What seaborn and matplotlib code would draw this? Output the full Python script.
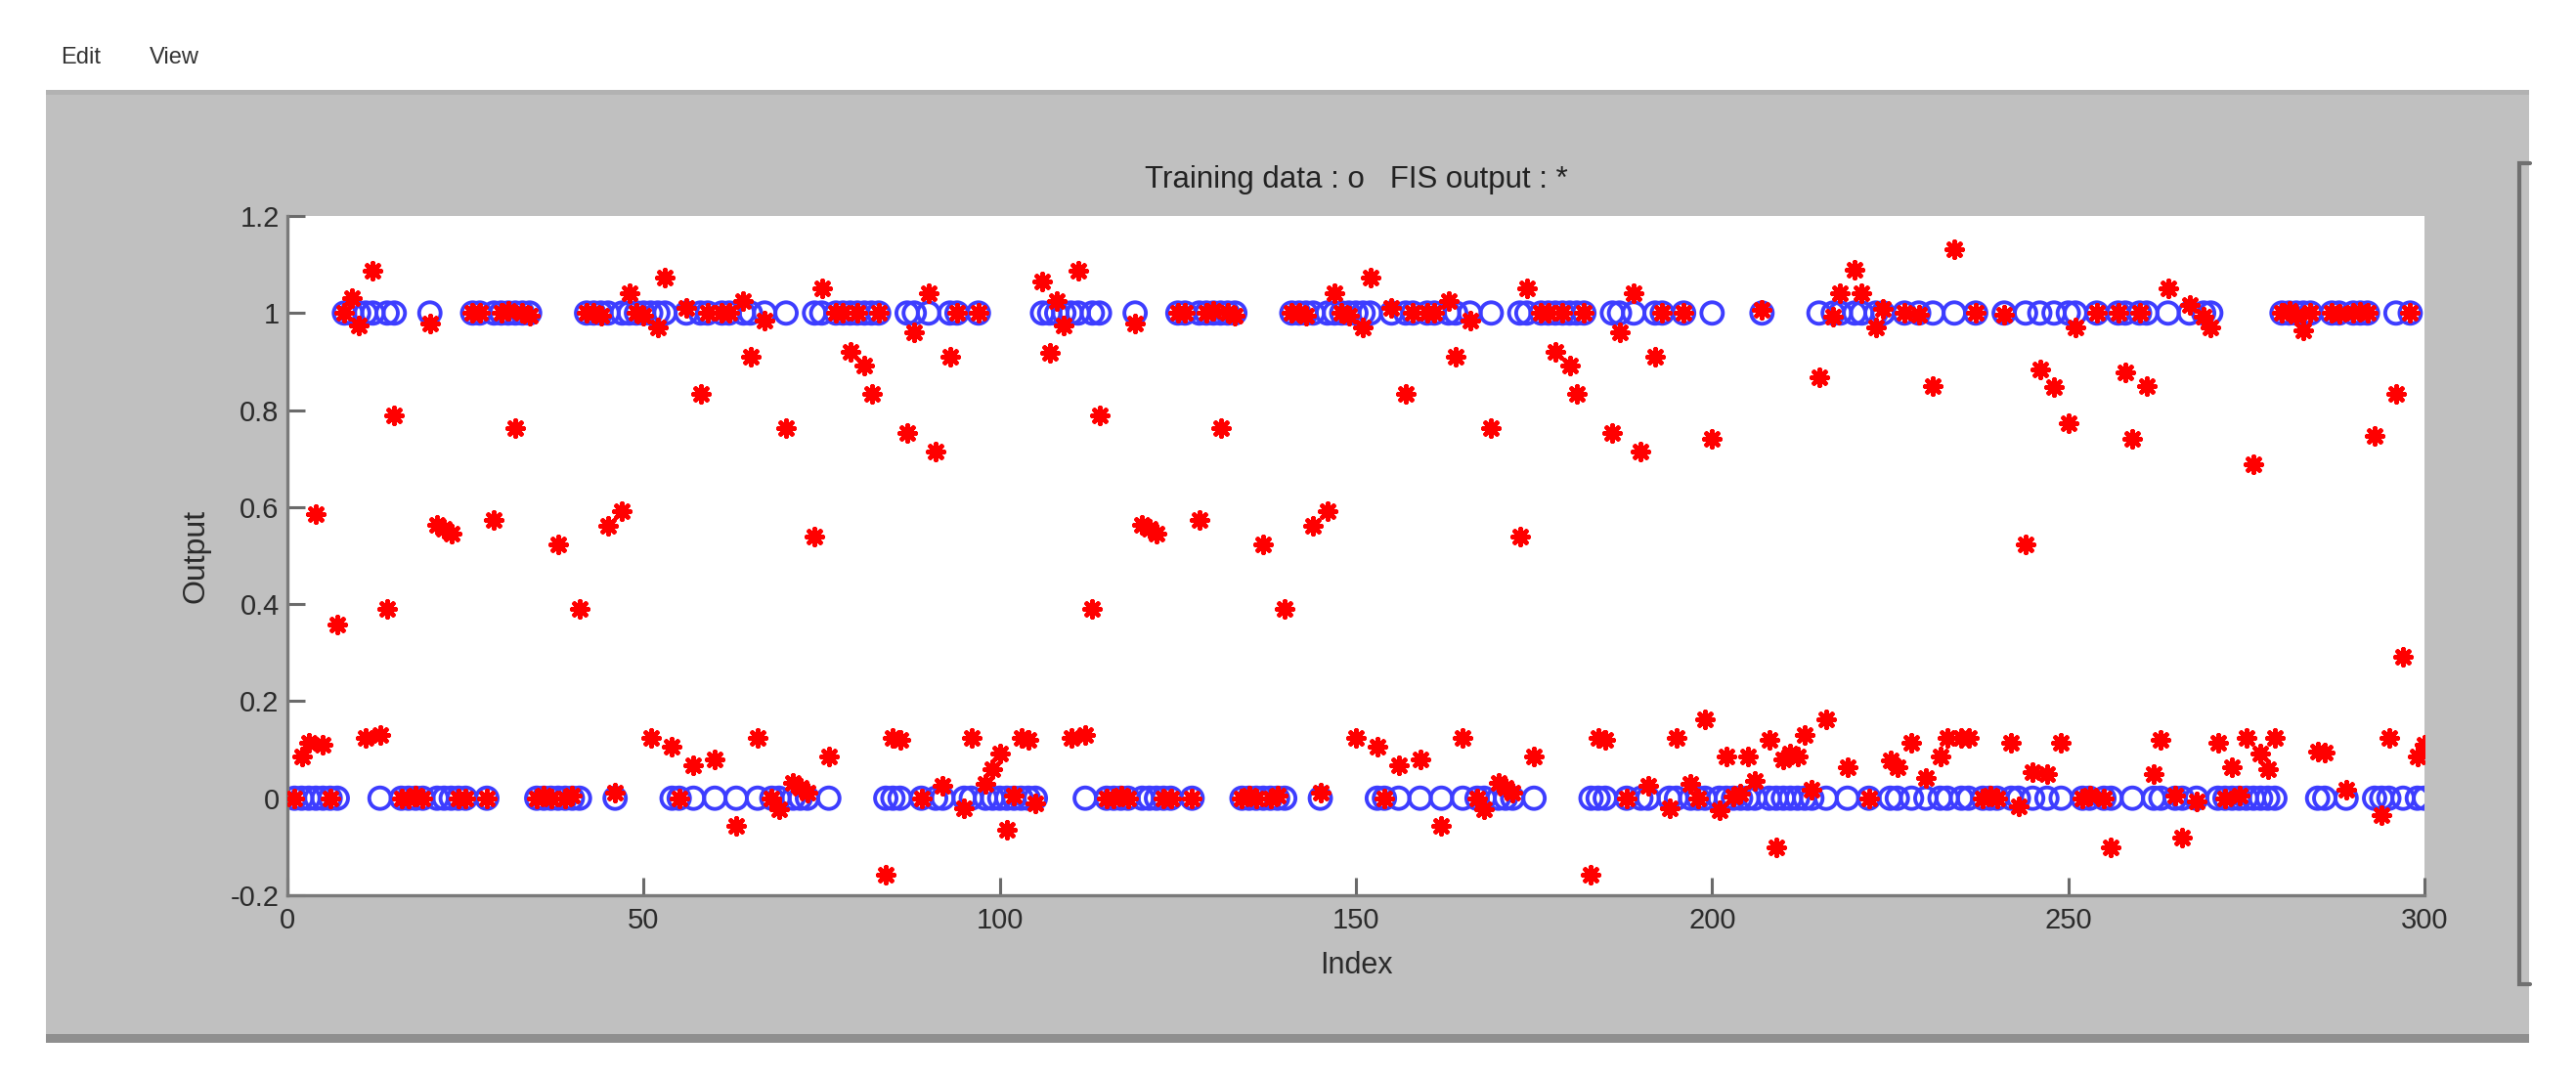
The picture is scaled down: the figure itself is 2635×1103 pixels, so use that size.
import numpy as np
import pandas as pd
import matplotlib
matplotlib.use("Agg")
import matplotlib.pyplot as plt
from matplotlib.patches import Rectangle
from matplotlib.lines import Line2D
from matplotlib.ticker import FuncFormatter
import seaborn as sns


W, H = 2635, 1103

# sample index 1..300
index = np.arange(1, 301)

# training data (blue circles), rows of 10
training = [
    0, 0, 0, 0, 0, 0, 0, 1, 1, 1,
    1, 1, 0, 1, 1, 0, 0, 0, 0, 1,
    0, 0, 0, 0, 0, 1, 1, 0, 1, 1,
    1, 1, 1, 1, 0, 0, 0, 0, 0, 0,
    0, 1, 1, 1, 1, 0, 1, 1, 1, 1,
    1, 1, 1, 0, 0, 1, 0, 1, 1, 0,
    1, 1, 0, 1, 1, 0, 1, 0, 0, 1,
    0, 0, 0, 1, 1, 0, 1, 1, 1, 1,
    1, 1, 1, 0, 0, 0, 1, 1, 0, 1,
    0, 0, 1, 1, 0, 0, 1, 0, 0, 0,
    0, 0, 0, 0, 0, 1, 1, 1, 1, 1,
    1, 0, 1, 1, 0, 0, 0, 0, 1, 0,
    0, 0, 0, 0, 1, 1, 0, 1, 1, 1,
    1, 1, 1, 0, 0, 0, 0, 0, 0, 0,
    1, 1, 1, 1, 0, 1, 1, 1, 1, 1,
    1, 1, 0, 0, 1, 0, 1, 1, 0, 1,
    1, 0, 1, 1, 0, 1, 0, 0, 1, 0,
    0, 0, 1, 1, 0, 1, 1, 1, 1, 1,
    1, 1, 0, 0, 0, 1, 1, 0, 1, 0,
    0, 1, 1, 0, 0, 1, 0, 0, 0, 1,
    0, 0, 0, 0, 0, 0, 1, 0, 0, 0,
    0, 0, 0, 0, 1, 0, 1, 1, 0, 1,
    1, 0, 1, 1, 0, 0, 1, 0, 1, 0,
    1, 0, 0, 1, 0, 0, 1, 0, 0, 0,
    1, 0, 0, 1, 0, 1, 0, 1, 0, 1,
    1, 0, 0, 1, 0, 0, 1, 1, 0, 1,
    1, 0, 0, 1, 0, 0, 1, 0, 1, 1,
    0, 0, 0, 0, 0, 0, 0, 0, 0, 1,
    1, 1, 1, 1, 0, 0, 1, 1, 0, 1,
    1, 1, 0, 0, 0, 1, 0, 1, 0, 0,
]

# FIS output (red stars), rows of 10
fis_output = [
    0.0, 0.087, 0.115, 0.585, 0.11, 0.0, 0.358, 1.0, 1.03, 0.975,
    0.125, 1.087, 0.131, 0.39, 0.789, 0.0, 0.0, 0.005, 0.0, 0.978,
    0.564, 0.555, 0.545, 0.0, 0.0, 1.0, 1.0, 0.0, 0.574, 1.0,
    1.005, 0.763, 1.0, 0.995, 0.0, 0.005, 0.0, 0.524, 0.0, 0.005,
    0.39, 1.0, 1.0, 0.995, 0.561, 0.012, 0.592, 1.04, 1.0, 0.995,
    0.125, 0.97, 1.073, 0.106, 0.0, 1.01, 0.067, 0.834, 1.0, 0.08,
    1.0, 1.0, -0.056, 1.024, 0.909, 0.125, 0.984, 0.0, -0.023, 0.763,
    0.031, 0.022, 0.012, 0.54, 1.05, 0.087, 1.0, 1.0, 0.921, 1.0,
    0.892, 0.834, 1.0, -0.157, 0.125, 0.12, 0.752, 0.96, 0.0, 1.04,
    0.714, 0.026, 0.909, 1.0, -0.02, 0.125, 1.0, 0.03, 0.06, 0.092,
    -0.066, 0.005, 0.125, 0.12, -0.011, 1.066, 0.918, 1.024, 0.975, 0.125,
    1.087, 0.131, 0.39, 0.789, 0.0, 0.0, 0.005, 0.0, 0.978, 0.564,
    0.555, 0.545, 0.0, 0.0, 1.0, 1.0, 0.0, 0.574, 1.0, 1.005,
    0.763, 1.0, 0.995, 0.0, 0.005, 0.0, 0.524, 0.0, 0.005, 0.39,
    1.0, 1.0, 0.995, 0.561, 0.012, 0.592, 1.04, 1.0, 0.995, 0.125,
    0.97, 1.073, 0.106, 0.0, 1.01, 0.067, 0.834, 1.0, 0.08, 1.0,
    1.0, -0.056, 1.024, 0.909, 0.125, 0.984, 0.0, -0.023, 0.763, 0.031,
    0.022, 0.012, 0.54, 1.05, 0.087, 1.0, 1.0, 0.921, 1.0, 0.892,
    0.834, 1.0, -0.157, 0.125, 0.12, 0.752, 0.96, 0.0, 1.04, 0.714,
    0.026, 0.909, 1.0, -0.02, 0.125, 1.0, 0.03, 0.0, 0.162, 0.74,
    -0.025, 0.087, 0.003, 0.01, 0.087, 0.036, 1.006, 0.12, -0.102, 0.08,
    0.092, 0.087, 0.13, 0.017, 0.867, 0.162, 0.993, 1.04, 0.064, 1.089,
    1.04, 0.0, 0.97, 1.008, 0.078, 0.064, 1.0, 0.115, 0.996, 0.042,
    0.85, 0.087, 0.125, 1.131, 0.125, 0.125, 1.0, 0.0, 0.005, 0.0,
    0.996, 0.115, -0.016, 0.524, 0.054, 0.883, 0.05, 0.848, 0.115, 0.773,
    0.97, 0.0, 0.005, 1.0, 0.0, -0.102, 1.0, 0.878, 0.74, 1.0,
    0.85, 0.05, 0.12, 1.05, 0.005, -0.082, 1.017, -0.007, 0.993, 0.97,
    0.115, 0.0, 0.064, 0.005, 0.125, 0.688, 0.092, 0.059, 0.125, 1.0,
    1.005, 0.995, 0.965, 1.0, 0.097, 0.095, 1.0, 0.998, 0.017, 1.0,
    1.002, 1.0, 0.746, -0.035, 0.125, 0.834, 0.292, 1.0, 0.087, 0.111,
]

x_ticks = [0, 50, 100, 150, 200, 250, 300]
y_ticks = [-0.2, 0, 0.2, 0.4, 0.6, 0.8, 1.0, 1.2]

sns.set_theme(style="ticks")
plt.rcParams["font.family"] = ["Liberation Sans", "DejaVu Sans"]


def fx(px):
    return px / W


def fy(py):
    return 1 - py / H


df = pd.DataFrame({"Index": index, "Training": training, "FIS": fis_output})

fig = plt.figure(figsize=(W / 100, H / 100), dpi=100)
fig.patch.set_facecolor("white")

# grey window panel behind the axes
fig.add_artist(Rectangle((fx(47), fy(1067)), fx(2587) - fx(47), fy(92) - fy(1067),
                         transform=fig.transFigure, facecolor="#c0c0c0", edgecolor="none", zorder=0))
fig.add_artist(Rectangle((fx(47), fy(97)), fx(2587) - fx(47), fy(92) - fy(97),
                         transform=fig.transFigure, facecolor="#b2b2b2", edgecolor="none", zorder=0))
fig.add_artist(Rectangle((fx(47), fy(1067)), fx(2587) - fx(47), fy(1058) - fy(1067),
                         transform=fig.transFigure, facecolor="#8f8f8f", edgecolor="none", zorder=0))
fig.add_artist(Line2D([fx(2588), fx(2577), fx(2577), fx(2588)], [fy(167), fy(167), fy(1007), fy(1007)],
                      transform=fig.transFigure, color="#707070", lw=3.0, solid_joinstyle="miter"))

fig.text(fx(62), fy(59), "Edit", fontsize=17, va="center", color="#333333")
fig.text(fx(153), fy(59), "View", fontsize=17, va="center", color="#333333")

ax = fig.add_axes([fx(294), fy(916), fx(2480) - fx(294), fy(221) - fy(916)])
ax.set_facecolor("white")

sns.scatterplot(data=df, x="Index", y="Training", ax=ax, marker="o", s=250,
                facecolors="none", edgecolor="#3d3dff", linewidth=2.8, legend=False, zorder=2)
sns.scatterplot(data=df, x="Index", y="FIS", ax=ax, marker=(8, 2, 0), s=140,
                color="#ff0000", linewidth=3.4, legend=False, zorder=3)

ax.set_xlim(0, 300)
ax.set_ylim(-0.2, 1.2)
ax.set_xticks(x_ticks)
ax.set_yticks(y_ticks)
ax.yaxis.set_major_formatter(FuncFormatter(lambda v, _: f"{v:g}"))

for side in ["top", "right"]:
    ax.spines[side].set_visible(False)
for side in ["left", "bottom"]:
    ax.spines[side].set_color("#7a7a7a")
    ax.spines[side].set_linewidth(2.4)

ax.tick_params(direction="in", length=13, width=2.2, color="#6a6a6a",
               labelsize=21, labelcolor="#2b2b2b", top=False, right=False)
ax.tick_params(axis="x", pad=9)
ax.tick_params(axis="y", pad=6)

ax.set_xlabel("Index", fontsize=22, color="#2b2b2b")
ax.set_ylabel("Output", fontsize=23, color="#2b2b2b")
ax.xaxis.set_label_coords(0.5, -0.082)
ax.yaxis.set_label_coords(-0.0361, 0.5)
ax.set_title("Training data : o   FIS output : *", fontsize=22.5, pad=21, color="#222222")

fig.savefig("out.png", dpi=100)
